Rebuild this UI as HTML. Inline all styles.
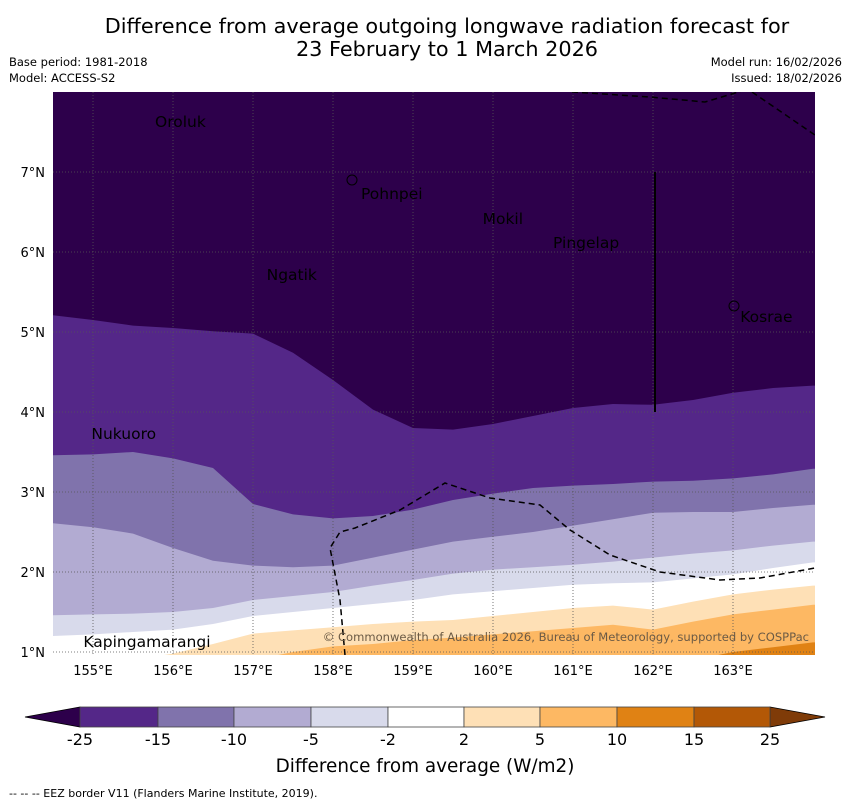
<!DOCTYPE html>
<html><head><meta charset="utf-8">
<style>
body{margin:0;background:#fff;width:850px;height:804px;overflow:hidden;font-family:"DejaVu Sans","Liberation Sans",sans-serif;}
svg{display:block}
</style></head>
<body>
<svg id="chart" width="850" height="804" xmlns="http://www.w3.org/2000/svg"></svg>
<script>
// ---- data ----
const lons = [154.5,155,155.5,156,156.5,157,157.5,158,158.5,159,159.5,160,160.5,161,161.5,162,162.5,163,163.5,164];
const levels = [-25,-15,-10,-5,-2,2,5,10];
const bLm25 = [5.21,5.15,5.08,5.05,5.01,4.98,4.74,4.4,4.03,3.8,3.78,3.85,3.95,4.05,4.1,4.09,4.15,4.24,4.3,4.33];
const bLm15 = [3.46,3.47,3.5,3.42,3.3,2.85,2.72,2.67,2.7,2.78,2.9,2.98,3.05,3.08,3.1,3.13,3.14,3.17,3.22,3.29];
const bLm10 = [2.61,2.56,2.48,2.3,2.14,2.08,2.06,2.08,2.18,2.28,2.38,2.44,2.5,2.58,2.66,2.74,2.75,2.75,2.8,2.84];
const bLm5  = [1.46,1.47,1.48,1.5,1.55,1.65,1.7,1.75,1.83,1.9,1.98,2.03,2.06,2.09,2.13,2.18,2.23,2.27,2.33,2.38];
const bLm2  = [1.2,1.22,1.25,1.28,1.35,1.45,1.5,1.55,1.6,1.65,1.72,1.76,1.8,1.84,1.86,1.87,1.92,1.97,2.05,2.12];
const bLp2  = [0.9,0.9,0.9,0.98,1.1,1.23,1.27,1.31,1.35,1.38,1.4,1.45,1.5,1.55,1.58,1.53,1.63,1.72,1.78,1.83];
const bLp5  = [0.9,0.9,0.9,0.9,0.9,0.9,1.0,1.07,1.1,1.15,1.18,1.22,1.26,1.3,1.34,1.28,1.38,1.47,1.53,1.59];
const bLp10 = [0.9,0.9,0.9,0.9,0.9,0.9,0.9,0.9,0.9,0.9,0.9,0.9,0.9,0.9,0.9,0.9,0.9,1.0,1.06,1.12];
const boundaries = [bLm25,bLm15,bLm10,bLm5,bLm2,bLp2,bLp5,bLp10];
const bandColors = ["#542788","#8073ac","#b2abd2","#d8daeb","#ffffff","#fee0b6","#fdb863","#e08214"];
const cbTicks = ["-25","-15","-10","-5","-2","2","5","10","15","25"];
const cbColors = ["#542788","#8073ac","#b2abd2","#d8daeb","#ffffff","#fee0b6","#fdb863","#e08214","#b35806"];
const lonTicks = [155,156,157,158,159,160,161,162,163];
const latTicks = [1,2,3,4,5,6,7];
const places = [["Oroluk",155.775,7.56],["Pohnpei",158.35,6.66],["Mokil",159.87,6.35],["Pingelap",160.75,6.05],["Ngatik",157.17,5.65],["Kosrae",163.09,5.125],["Nukuoro",154.98,3.66],["Kapingamarangi",154.88,1.06]];

// ---- axes ----
const X0=53,X1=815,Y0=92,Y1=655;
const x = lon => X0 + (lon-154.5)*80;
const y = lat => 652 - (lat-1)*80;
const NS="http://www.w3.org/2000/svg";
const svg=document.getElementById('chart');
function mk(tag,attrs,parent){const e=document.createElementNS(NS,tag);for(const k in attrs)e.setAttribute(k,attrs[k]);(parent||svg).appendChild(e);return e;}

const defs=mk('defs',{});
const cp=mk('clipPath',{id:'mapclip'},defs);
mk('rect',{x:X0,y:Y0,width:X1-X0,height:Y1-Y0},cp);
const map=mk('g',{'clip-path':'url(#mapclip)'});


const bg=mk('rect',{x:X0,y:Y0,width:X1-X0,height:Y1-Y0,fill:'#2d004b'},map);


boundaries.forEach((b,i)=>{
  let d='M'+x(lons[0])+','+y(b[0]);
  for(let j=1;j<lons.length;j++) d+=' L'+x(lons[j])+','+y(b[j]);
  d+=' L'+(X1+5)+','+y(b[b.length-1])+' L'+(X1+5)+','+(Y1+20)+' L'+(X0-5)+','+(Y1+20)+' L'+(X0-5)+','+y(b[0])+' Z';
  const p=mk('path',{d:d,fill:bandColors[i]},map);
  
  
});
// grid
lonTicks.forEach(l=>{const g=mk('line',{x1:x(l),x2:x(l),y1:Y0,y2:Y1,stroke:'#555',"stroke-width":0.8,"stroke-dasharray":"1,2"},map);
});
latTicks.forEach(l=>{const g=mk('line',{x1:X0,x2:X1,y1:y(l),y2:y(l),stroke:'#555',"stroke-width":0.8,"stroke-dasharray":"1,2"},map);
});
// EEZ
const e1=mk('path',{d:'M572,92 L650,97 L705,102 L745,90 M752,92 L815,135',fill:'none',stroke:'#000','stroke-width':1.5,'stroke-dasharray':'6,4'},map);

const e2=mk('path',{d:'M345,655 L340,600 L330,548 L340,532 L355,528 L400,510 L445,483 L490,498 L540,505 L570,530 L610,555 L660,572 L720,580 L760,578 L815,568',fill:'none',stroke:'#000','stroke-width':1.5,'stroke-dasharray':'6,4'},map);

const vl=mk('line',{x1:655,x2:655,y1:172,y2:412,stroke:'#000','stroke-width':2},map);

// islands
[[352,180],[734,306]].forEach(p=>{const c=mk('circle',{cx:p[0],cy:p[1],r:5,fill:'none',stroke:'#000','stroke-width':1},map);
});
places.forEach(p=>{const t=mk('text',{x:x(p[1]),y:y(p[2]),'font-size':15.5,fill:'#000'},map);t.textContent=p[0];
});
const cr=mk('text',{x:809,y:641,'font-size':11.55,fill:'#6b5a45','text-anchor':'end'},map);
cr.textContent='© Commonwealth of Australia 2026, Bureau of Meteorology, supported by COSPPac';

// tick labels
lonTicks.forEach(l=>{const t=mk('text',{x:x(l),y:675,'font-size':13,'text-anchor':'middle'});t.textContent=l+'°E';
});
latTicks.forEach(l=>{const t=mk('text',{x:45,y:y(l)+5,'font-size':13,'text-anchor':'end'});t.textContent=l+'°N';
});
// titles
[['Difference from average outgoing longwave radiation forecast for',33],['23 February to 1 March 2026',56]].forEach(s=>{
const t=mk('text',{x:447,y:s[1],'font-size':20.8,'text-anchor':'middle'});t.textContent=s[0];
});
[['Base period: 1981-2018',9,66,'start'],['Model: ACCESS-S2',9,82,'start'],['Model run: 16/02/2026',842,66,'end'],['Issued: 18/02/2026',842,82,'end']].forEach(s=>{
const t=mk('text',{x:s[1],y:s[2],'font-size':11.5,'text-anchor':s[3]});t.textContent=s[0];
});
// colorbar
const cbx=[80,158,234,311,388,464,540,617,694,770];
const CY0=707,CY1=727;
const la=mk('path',{d:`M80,${CY0} L25,717 L80,${CY1} Z`,fill:'#2d004b',stroke:'#000','stroke-width':0.8});

const ra=mk('path',{d:`M770,${CY0} L825,717 L770,${CY1} Z`,fill:'#7f3b08',stroke:'#000','stroke-width':0.8});

cbColors.forEach((c,i)=>{const r=mk('rect',{x:cbx[i],y:CY0,width:cbx[i+1]-cbx[i],height:CY1-CY0,fill:c,stroke:'#444','stroke-width':0.8});
});
cbTicks.forEach((s,i)=>{const t=mk('text',{x:cbx[i],y:745,'font-size':16,'text-anchor':'middle'});t.textContent=s;
});
const cl=mk('text',{x:425,y:772,'font-size':18.4,'text-anchor':'middle'});cl.textContent='Difference from average (W/m2)';

const ft=mk('text',{x:9,y:797,'font-size':11});ft.textContent='--  --  -- EEZ border V11 (Flanders Marine Institute, 2019).';

</script>
</body></html>
